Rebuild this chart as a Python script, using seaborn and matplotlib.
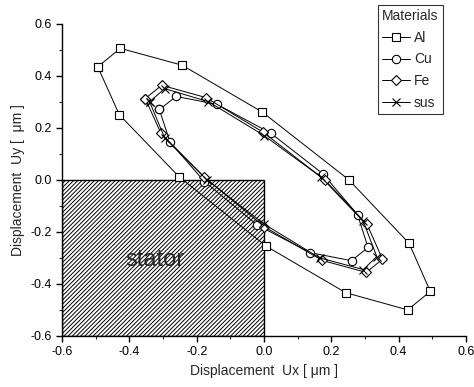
import numpy as np
import pandas as pd
import matplotlib
matplotlib.use("Agg")
import matplotlib.pyplot as plt
import seaborn as sns
from matplotlib.patches import Rectangle
from matplotlib.ticker import MultipleLocator

sns.set_style("ticks")
plt.rcParams['font.family'] = ['Liberation Sans', 'DejaVu Sans']
plt.rcParams['hatch.linewidth'] = 0.7

materials = ["Al", "Cu", "Fe", "sus"]
markers = ["s", "o", "D", "x"]

al_x = [-0.494, -0.427, -0.243, -0.005, 0.252, 0.431, 0.494, 0.427, 0.243, 0.006, -0.252, -0.430]
al_y = [0.434, 0.505, 0.440, 0.260, 0.000, -0.244, -0.429, -0.500, -0.434, -0.255, 0.011, 0.250]

cu_x = [-0.311, -0.261, -0.140, 0.020, 0.174, 0.278, 0.309, 0.260, 0.137, -0.020, -0.177, -0.279]
cu_y = [0.270, 0.320, 0.290, 0.179, 0.024, -0.134, -0.260, -0.311, -0.280, -0.174, -0.007, 0.144]

fe_x = [-0.353, -0.304, -0.173, -0.003, 0.180, 0.306, 0.352, 0.304, 0.173, 0.000, -0.177, -0.306]
fe_y = [0.312, 0.363, 0.316, 0.183, 0.000, -0.171, -0.305, -0.356, -0.310, -0.180, 0.010, 0.178]

sus_x = [-0.340, -0.295, -0.165, 0.000, 0.170, 0.295, 0.335, 0.295, 0.165, 0.000, -0.170, -0.295]
sus_y = [0.300, 0.350, 0.300, 0.170, 0.010, -0.160, -0.295, -0.345, -0.300, -0.170, 0.000, 0.160]

series = {"Al": (al_x, al_y), "Cu": (cu_x, cu_y), "Fe": (fe_x, fe_y), "sus": (sus_x, sus_y)}

fig = plt.figure(figsize=(4.74, 3.87), dpi=100)
ax = fig.add_axes([0.131, 0.132, 0.852, 0.807])

# stator
ax.add_patch(Rectangle((-0.6, -0.6), 0.6, 0.6, facecolor='white', edgecolor='black',
                       hatch='////////', linewidth=1.0, zorder=1))
ax.text(-0.325, -0.31, "stator", fontsize=17, ha='center', va='center', zorder=2)

for name, mk in zip(materials, markers):
    xs, ys = series[name]
    df = pd.DataFrame({"x": list(xs) + [xs[0]], "y": list(ys) + [ys[0]]})
    ms = 6 if mk != "D" else 5.5
    sns.lineplot(data=df, x="x", y="y", sort=False, estimator=None, ax=ax,
                 color='black', linewidth=0.7, marker=mk, markersize=ms,
                 markerfacecolor='white', markeredgecolor='black', markeredgewidth=0.8,
                 label=name, zorder=3)

ax.set_xlim(-0.6, 0.6)
ax.set_ylim(-0.6, 0.6)
ax.xaxis.set_major_locator(MultipleLocator(0.2))
ax.xaxis.set_minor_locator(MultipleLocator(0.1))
ax.yaxis.set_major_locator(MultipleLocator(0.2))
ax.yaxis.set_minor_locator(MultipleLocator(0.1))
ax.set_xticklabels([f"{v:.1f}" for v in ax.get_xticks()])
ax.set_yticklabels([f"{v:.1f}" for v in ax.get_yticks()])
ax.tick_params(axis='both', which='major', direction='out', length=4, width=1, labelsize=9, colors='black')
ax.tick_params(axis='both', which='minor', direction='out', length=2, width=0.8)
for s in ['top', 'right']:
    ax.spines[s].set_visible(False)
for s in ['left', 'bottom']:
    ax.spines[s].set_linewidth(1.0)
    ax.spines[s].set_color('black')

ax.set_xlabel("Displacement  Ux [ μm ]", fontsize=10)
ax.set_ylabel("Displacement  Uy [  μm ]", fontsize=10)

leg = ax.legend(title="Materials", loc='upper left', bbox_to_anchor=(0.797, 0.987),
                bbox_transform=fig.transFigure, frameon=True, fancybox=False,
                edgecolor='black', fontsize=10, title_fontsize=10, handlelength=2.0,
                handletextpad=0.3, borderpad=0.3, labelspacing=0.55, borderaxespad=0)
leg.get_frame().set_linewidth(0.8)
leg._legend_box.align = "left"

fig.savefig("out.png", dpi=100)
